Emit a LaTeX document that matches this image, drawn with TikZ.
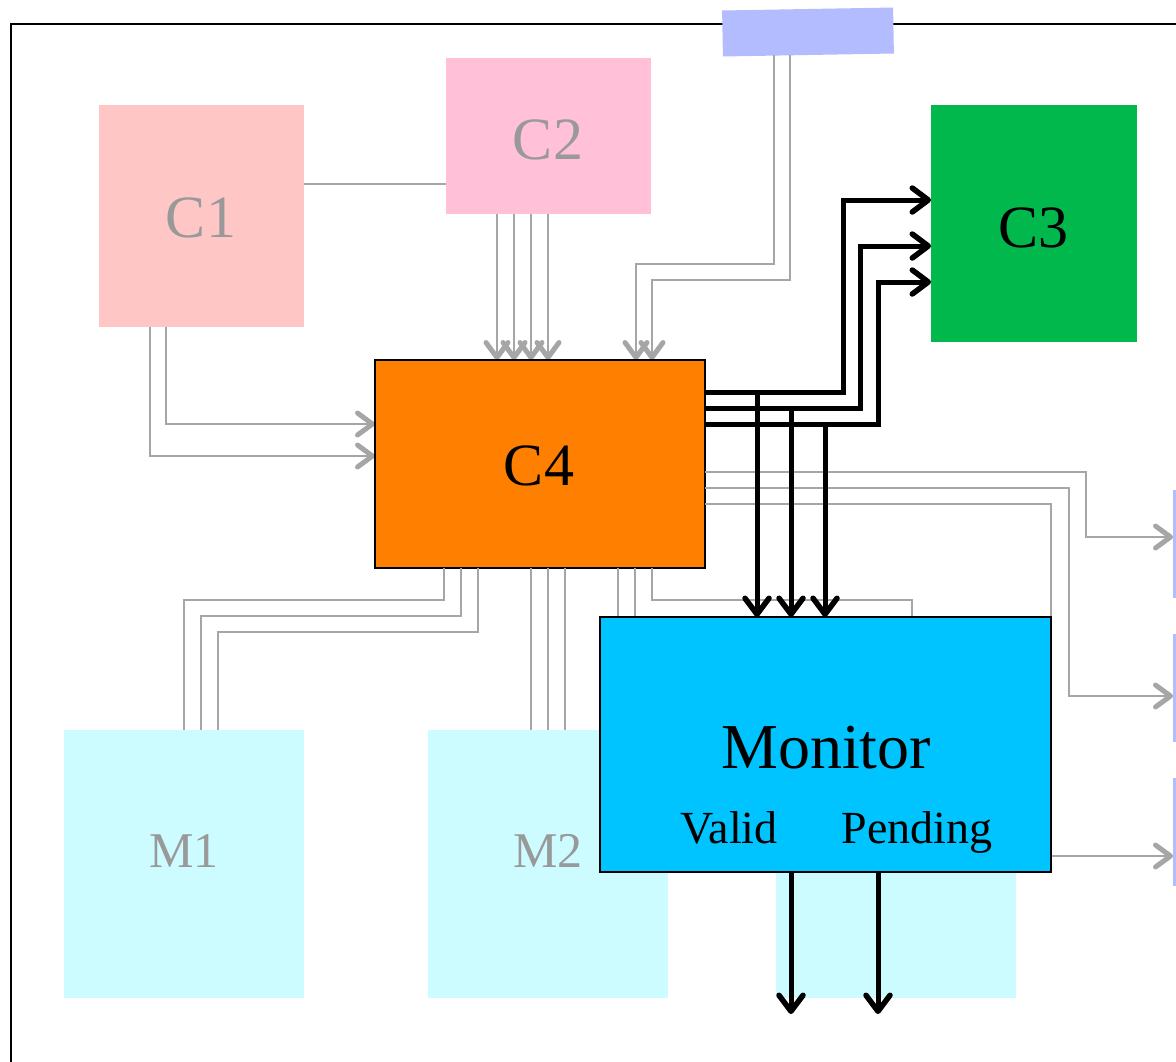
\documentclass[tikz,border=0pt]{standalone}
\usepackage{fontspec}
\setmainfont{Liberation Serif}
\usetikzlibrary{arrows.meta}

\definecolor{cone}{HTML}{FFC6C6}
\definecolor{ctwo}{HTML}{FFC0D8}
\definecolor{cthree}{HTML}{00B84C}
\definecolor{cfour}{HTML}{FF7F00}
\definecolor{mem}{HTML}{CCFCFF}
\definecolor{mon}{HTML}{00C4FF}
\definecolor{lav}{HTML}{B3BCFF}
\definecolor{wire}{HTML}{A6A6A6}
\definecolor{ghost}{HTML}{999999}

\tikzset{
  blk/.style={inner sep=0pt, outer sep=0pt, draw=none},
  faded/.style={text=ghost},
  gw/.style={draw=wire, line width=2pt},
  ga/.style={gw, -{Straight Barb[length=15pt,width=22pt,line width=5pt,round]}},
  bw/.style={draw=black, line width=5pt},
  ba/.style={bw, -{Straight Barb[length=16pt,width=24pt,line width=5.5pt,round]}},
  cfont/.style={font=\fontsize{60}{60}\selectfont},
  mfont/.style={font=\fontsize{50}{50}\selectfont},
}

\begin{document}
\begin{tikzpicture}[x=1pt,y=-1pt]
\useasboundingbox (0,0) rectangle (1176,1061);
\clip (0,0) rectangle (1176,1061);

% outer frame
\draw[line width=2.2pt] (11,24) rectangle (1210,1090);

% memory blocks
\node[blk, fill=mem, minimum width=240pt, minimum height=268pt] (m1) at (184,864) {};
\node[mfont, faded] at (184,851) {M1};
\node[blk, fill=mem, minimum width=240pt, minimum height=268pt] (m2) at (548,864) {};
\node[mfont, faded] at (548,851) {M2};
\node[blk, fill=mem, minimum width=240pt, minimum height=268pt] (m3) at (896,864) {};

% right-hand targets
\node[blk, fill=lav, anchor=north west, minimum width=60pt, minimum height=108pt] (r1) at (1173,490) {};
\node[blk, fill=lav, anchor=north west, minimum width=60pt, minimum height=108pt] (r2) at (1173,634) {};
\node[blk, fill=lav, anchor=north west, minimum width=60pt, minimum height=108pt] (r3) at (1173,778) {};

% top source
\node[blk, fill=lav, minimum width=171pt, minimum height=46pt, rotate=1] (src) at (808,32) {};

% upper blocks
\node[blk, fill=cone, minimum width=205pt, minimum height=222pt] (c1) at (201.5,216) {};
\node[cfont, faded] at (201,218) {C1};
\node[blk, fill=ctwo, minimum width=205pt, minimum height=156pt] (c2) at (548.5,136) {};
\node[cfont, faded] at (548,140) {C2};
\node[blk, fill=cthree, minimum width=206pt, minimum height=237pt] (c3) at (1034,223.5) {};
\node[cfont] at (1033,228) {C3};

% grey wiring
\draw[gw] (c1.east |- 0,184) -- (c2.west |- 0,184);

\draw[ga] (c1.south -| 166,0) -- (166,424) -- (375,424);
\draw[ga] (c1.south -| 150,0) -- (150,456) -- (375,456);

\foreach \xx in {497,514,531,548}
  \draw[ga] (c2.south -| \xx,0) -- (\xx,360);

\draw[ga] (774,55) -- (774,264) -- (636,264) -- (636,360);
\draw[ga] (790,55) -- (790,280) -- (652,280) -- (652,360);

% processing block
\node[blk, draw=black, line width=1.6pt, fill=cfour, minimum width=330pt, minimum height=208pt] (c4) at (540,464) {};
\node[cfont] at (539,466) {C4};

% C4 to memories
\draw[gw] (c4.south -| 444,0) -- (444,600) -- (184,600) -- (m1.north -| 184,0);
\draw[gw] (c4.south -| 461,0) -- (461,616) -- (201,616) -- (m1.north -| 201,0);
\draw[gw] (c4.south -| 478,0) -- (478,632) -- (218,632) -- (m1.north -| 218,0);
\foreach \xx in {531,548,565}
  \draw[gw] (c4.south -| \xx,0) -- (m2.north -| \xx,0);
\draw[gw] (c4.south -| 618,0) -- (m3.north -| 618,0);
\draw[gw] (c4.south -| 635,0) -- (m3.north -| 635,0);
\draw[gw] (c4.south -| 652,0) -- (652,600) -- (912,600) -- (m3.north -| 912,0);

% C4 to right-hand targets
\draw[ga] (c4.east |- 0,472) -- (1086,472) -- (1086,537) -- (r1.west |- 0,537);
\draw[ga] (c4.east |- 0,488) -- (1069,488) -- (1069,696) -- (r2.west |- 0,696);
\draw[ga] (c4.east |- 0,504) -- (1051,504) -- (1051,856) -- (r3.west |- 0,856);

% monitor
\node[blk, draw=black, line width=1.6pt, fill=mon, minimum width=451pt, minimum height=255pt] (mon) at (825.5,744.5) {};
\node[anchor=base, inner sep=0pt, font=\fontsize{64}{64}\selectfont] (mt) at (826,768) {Monitor};
\node[anchor=base, inner sep=0pt, font=\fontsize{46}{46}\selectfont] (vl) at (729,843) {Valid};
\node[anchor=base, inner sep=0pt, font=\fontsize{46}{46}\selectfont] (pd) at (917,843) {Pending};

% black wiring: C4 to C3
\draw[ba] (c4.east |- 0,392) -- (843,392) -- (843,200) -- (c3.west |- 0,200);
\draw[ba] (c4.east |- 0,408) -- (860,408) -- (860,246) -- (c3.west |- 0,246);
\draw[ba] (c4.east |- 0,424) -- (878,424) -- (878,282) -- (c3.west |- 0,282);

% black taps down to the monitor
\draw[ba] (757,392) -- (mon.north -| 757,0);
\draw[ba] (791,408) -- (mon.north -| 791,0);
\draw[ba] (825,424) -- (mon.north -| 825,0);

% monitor outputs
\coordinate (vout) at (791,1014);
\coordinate (pout) at (878,1014);
\draw[ba] (mon.south -| 791,0) -- (vout);
\draw[ba] (mon.south -| 878,0) -- (pout);
\end{tikzpicture}
\end{document}
